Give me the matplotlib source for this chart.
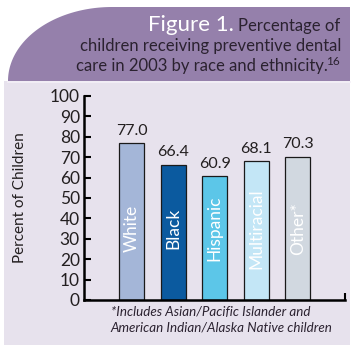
import numpy as np
import matplotlib.pyplot as plt
from matplotlib.patches import Rectangle, Polygon

plt.rcParams['font.family'] = ['Lato', 'DejaVu Sans']

# data
groups = ["White", "Black", "Hispanic", "Multiracial", "Other*"]
percent = [77.0, 66.4, 60.9, 68.1, 70.3]
bar_colors = ["#a4b6d8", "#0b5a9f", "#5cc6e8", "#c3e6f6", "#d1d8e0"]
yticks = list(range(0, 101, 10))

title_lead = "Figure 1."
title_lines = ["Percentage of",
               "children receiving preventive dental",
               "care in 2003 by race and ethnicity."]
title_ref = "16"
ylabel = "Percent of Children"
footnote = ["*Includes Asian/Pacific Islander and",
            "American Indian/Alaska Native children"]

W, H = 361, 347
lavender = "#e7e2ed"
purple = "#9580ab"
dark = "#2b2230"

fig = plt.figure(figsize=(W / 100, H / 100), dpi=100)
fig.patch.set_facecolor("white")

# background panel, drawn in pixel coordinates
bg = fig.add_axes([0, 0, 1, 1], zorder=-1)
bg.set_xlim(0, W)
bg.set_ylim(H, 0)
bg.axis("off")
bg.add_patch(Rectangle((4, 81), 346, 264, color=lavender, lw=0))
th = np.linspace(np.pi, np.pi / 2, 60)
cx, cy, rx, ry = 112, 81, 104, 74
pts = np.column_stack([cx + rx * np.cos(th), cy - ry * np.sin(th)])
pts = np.vstack([pts, [[350, 7], [350, 81]]])
bg.add_patch(Polygon(pts, closed=True, color=purple, lw=0))
bg.plot([8, 350], [81.8, 81.8], color="#f4f0f7", lw=1.2)

# header text, right aligned
fig.canvas.draw()
r = fig.canvas.get_renderer()
t1 = bg.text(340, 31, title_lines[0], ha="right", va="baseline",
             fontsize=12, color=dark)
bb = t1.get_window_extent(r)
bg.text(bb.x0 - 4, H - 31, title_lead, ha="right", va="baseline",
        fontsize=16, color="white", transform=None)
bg.text(341, 51, title_lines[1], ha="right", va="baseline",
        fontsize=12, color=dark)
t3 = bg.text(340, 65, title_ref, ha="right", va="baseline",
             fontsize=8.5, color=dark)
bb3 = t3.get_window_extent(r)
bg.text(bb3.x0 + 1, H - 71, title_lines[2], ha="right", va="baseline",
        fontsize=12, color=dark, transform=None)

# chart axes
ax = fig.add_axes([84 / W, 1 - 300 / H, (345 - 84) / W, (300 - 96) / H])
ax.patch.set_alpha(0)
x = np.arange(len(groups))
ax.bar(x, percent, width=0.6, color=bar_colors, edgecolor="#1a1a1a", lw=0.9)
for i, (g, v) in enumerate(zip(groups, percent)):
    ax.text(i, 35, g, rotation=90, ha="center", va="center",
            color="white", fontsize=12.5)
    ax.text(i, v + 2.5, f"{v:.1f}", ha="center", va="bottom",
            color="#231f20", fontsize=11.5)

ax.set_xlim(-1.14, 5.13)
ax.set_ylim(0, 100)
ax.set_yticks(yticks)
ax.set_xticks([])
ax.set_xticks([5.13], minor=True)
ax.tick_params(axis="y", direction="in", length=5, width=1.5, pad=3,
               labelsize=12.5, labelcolor="#231f20")
ax.tick_params(axis="x", which="minor", direction="in", length=5, width=1.5)
for s in ["top", "right"]:
    ax.spines[s].set_visible(False)
for s in ["left", "bottom"]:
    ax.spines[s].set_linewidth(1.8)

fig.text(20 / W, 1 - 198 / H, ylabel, rotation=90, ha="center", va="center",
         fontsize=11, color="#231f20")

bg.text(111, 316, footnote[0], ha="left", va="baseline", fontsize=9.6,
        style="italic", color=dark)
bg.text(110, 332, footnote[1], ha="left", va="baseline", fontsize=9.6,
        style="italic", color=dark)

fig.savefig("out.png", dpi=100)
